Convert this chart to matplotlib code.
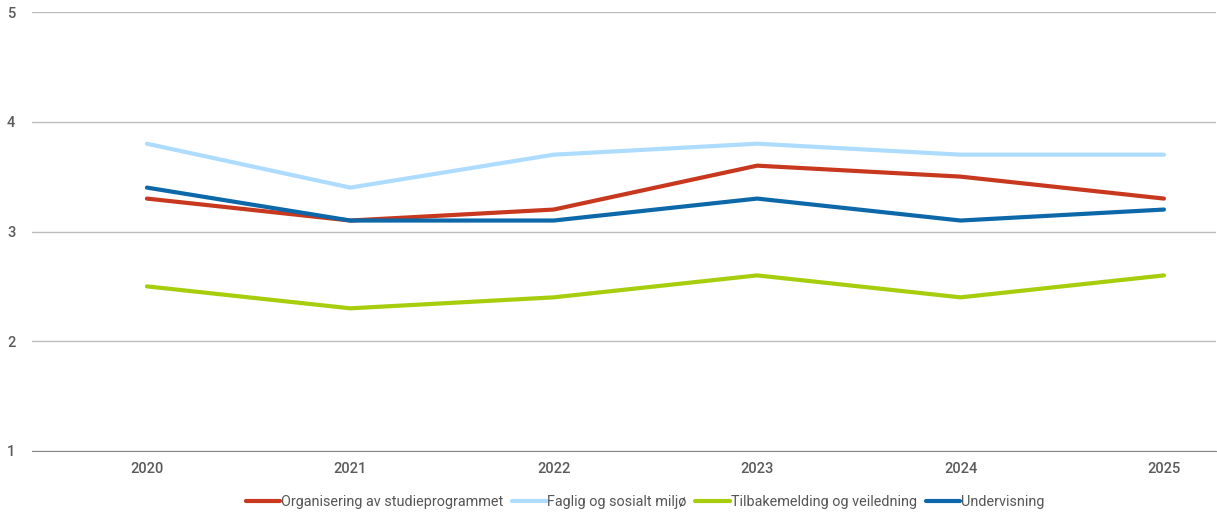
import matplotlib.pyplot as plt

years = ['2020', '2021', '2022', '2023', '2024', '2025']
series_names = ['Organisering av studieprogrammet', 'Faglig og sosialt miljø',
                'Tilbakemelding og veiledning', 'Undervisning']
organisering = [3.3, 3.1, 3.2, 3.6, 3.5, 3.3]
faglig = [3.8, 3.4, 3.7, 3.8, 3.7, 3.7]
tilbakemelding = [2.5, 2.3, 2.4, 2.6, 2.4, 2.6]
undervisning = [3.4, 3.1, 3.1, 3.3, 3.1, 3.2]
colors = ['#C8381E', '#AEDCFF', '#A6CE0C', '#0C68A8']

plt.rcParams['font.family'] = ['Roboto', 'DejaVu Sans']

fig = plt.figure(figsize=(12.17, 5.12), dpi=100)
ax = fig.add_axes([32 / 1217, 1 - 451 / 512, 1184 / 1217, 439 / 512])

x = list(range(len(years)))
for vals, name, c in zip([organisering, faglig, tilbakemelding, undervisning], series_names, colors):
    ax.plot(x, vals, color=c, lw=3, label=name, solid_capstyle='round')

ax.set_xlim(-0.565, 5.256)
ax.set_ylim(1, 5)
ax.set_yticks([1, 2, 3, 4, 5])
ax.set_xticks(x)
ax.set_xticklabels(years)
ax.grid(axis='y', color='#BDBDBD', lw=1)
ax.set_axisbelow(True)
for s in ['top', 'right', 'left']:
    ax.spines[s].set_visible(False)
ax.spines['bottom'].set_color('#888888')
ax.tick_params(length=0, labelsize=10.5, colors='#5A5A5A')
ax.tick_params(axis='x', pad=8)
ax.tick_params(axis='y', pad=12)
for lbl in ax.get_xticklabels() + ax.get_yticklabels():
    lbl.set_fontweight('medium')

leg = fig.legend(loc='center', bbox_to_anchor=(645 / 1217, 1 - 502 / 512), ncol=4, frameon=False,
                 fontsize=10.4, handlelength=2.4, handletextpad=0.05, columnspacing=0.6)
for t in leg.get_texts():
    t.set_color('#555555')

fig.savefig('out.png', dpi=100)
